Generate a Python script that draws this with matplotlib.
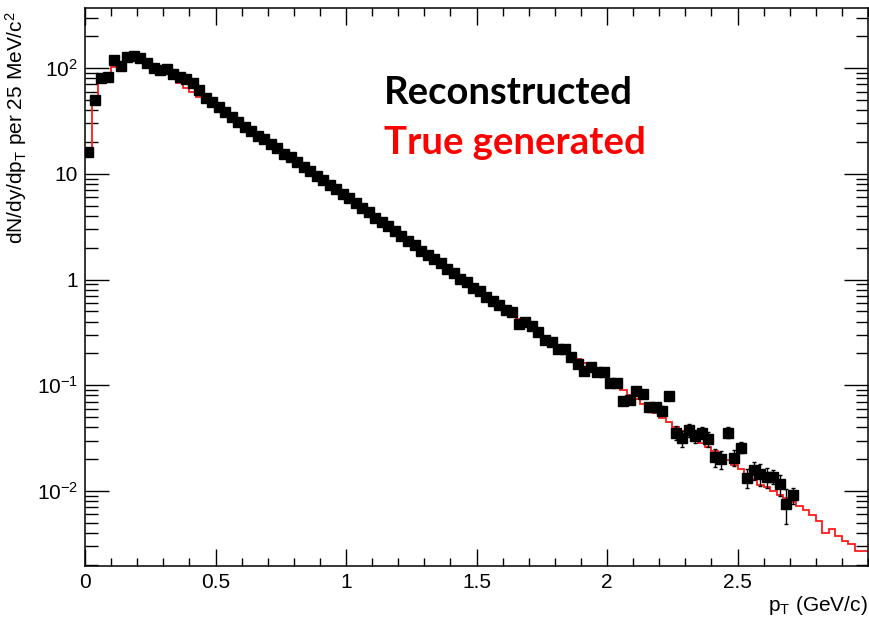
import numpy as np
import matplotlib
matplotlib.use("Agg")
import matplotlib.pyplot as plt
from matplotlib.ticker import FixedLocator, FixedFormatter, LogLocator, MultipleLocator, NullFormatter

plt.rcParams['font.family'] = ['Liberation Sans', 'DejaVu Sans']
plt.rcParams['mathtext.fontset'] = 'custom'
plt.rcParams['mathtext.rm'] = 'Liberation Sans'
plt.rcParams['mathtext.it'] = 'Liberation Sans:italic'
plt.rcParams['mathtext.bf'] = 'Liberation Sans:bold'

# ---- data ----
bin_width = 0.025          # GeV/c (25 MeV/c bins)
n_true_bins = 120

true_generated = [
    15.1, 47.9, 72.4, 79.4, 102.3, 107.2, 114.8, 116.1, 110.9, 104.7,
    97.7, 92.3, 88.1, 79.4, 72.4, 65.3, 59.6, 53.7, 49.0, 44.2,
    40.3, 36.3, 33.1, 29.9, 27.2, 24.5, 22.4, 20.2, 18.2, 16.6,
    15.0, 13.6, 12.3, 11.2, 10.1, 9.12, 8.32, 7.50, 6.84, 6.17,
    5.62, 5.07, 4.57, 4.12, 3.72, 3.35, 3.05, 2.75, 2.48, 2.24,
    2.02, 1.82, 1.64, 1.50, 1.35, 1.22, 1.10, 1.00, 0.902, 0.822,
    0.741, 0.676, 0.617, 0.556, 0.507, 0.462, 0.422, 0.380, 0.347, 0.316,
    0.285, 0.260, 0.237, 0.216, 0.195, 0.178, 0.162, 0.146, 0.133, 0.122,
    0.110, 0.100, 0.0902, 0.0813, 0.0733, 0.0661, 0.0596, 0.0543, 0.0490, 0.0447,
    0.0403, 0.0367, 0.0339, 0.0309, 0.0285, 0.0263, 0.0237, 0.0216, 0.0195, 0.0176,
    0.0160, 0.0141, 0.0129, 0.0115, 0.0108, 0.0100, 0.00923, 0.00861, 0.00794, 0.00724,
    0.00661, 0.00589, 0.00525, 0.00398, 0.00437, 0.00372, 0.00339, 0.00316, 0.00269, 0.00269,
]

reconstructed = [
    16.1, 49.9, 80.4, 82.0, 118, 105, 127, 131, 124, 112,
    100, 96, 98, 88, 83, 79, 72, 62, 52, 48,
    43, 38.6, 34.6, 31.0, 27.7, 25.6, 23.0, 21.3, 19.0, 17.6,
    15.4, 14.3, 13.0, 11.6, 10.7, 9.5, 8.8, 7.8, 7.2, 6.4,
    5.9, 5.3, 4.75, 4.35, 3.85, 3.5, 3.2, 2.85, 2.6, 2.3,
    2.12, 1.88, 1.72, 1.55, 1.42, 1.26, 1.16, 1.02, 0.95, 0.84,
    0.78, 0.69, 0.63, 0.58, 0.52, 0.49, 0.38, 0.40, 0.36, 0.32,
    0.27, 0.255, 0.22, 0.22, 0.184, 0.158, 0.137, 0.148, 0.132, 0.132,
    0.104, 0.106, 0.0713, 0.0724, 0.089, 0.082, 0.0617, 0.0617, 0.0575, 0.0794,
    0.0357, 0.0316, 0.038, 0.0331, 0.0357, 0.0309, 0.0209, 0.020, 0.0357, 0.0207,
    0.0257, 0.0134, 0.0158, 0.0145, 0.0136, 0.0136, 0.0116, 0.0076, 0.0091,
]

reconstructed_rel_err = [
    0.05, 0.03, 0.025, 0.025, 0.02, 0.02, 0.02, 0.02, 0.02, 0.02,
    0.02, 0.02, 0.02, 0.02, 0.02, 0.02, 0.02, 0.02, 0.02, 0.02,
    0.02, 0.02, 0.02, 0.02, 0.02, 0.02, 0.02, 0.02, 0.02, 0.02,
    0.025, 0.025, 0.025, 0.025, 0.025, 0.025, 0.025, 0.025, 0.025, 0.025,
    0.03, 0.03, 0.03, 0.03, 0.03, 0.03, 0.03, 0.03, 0.03, 0.03,
    0.035, 0.035, 0.035, 0.035, 0.035, 0.035, 0.035, 0.035, 0.035, 0.035,
    0.04, 0.04, 0.04, 0.04, 0.04, 0.04, 0.045, 0.045, 0.045, 0.045,
    0.05, 0.05, 0.05, 0.05, 0.06, 0.06, 0.06, 0.06, 0.06, 0.06,
    0.07, 0.07, 0.09, 0.09, 0.08, 0.08, 0.10, 0.10, 0.10, 0.09,
    0.15, 0.17, 0.14, 0.15, 0.14, 0.16, 0.20, 0.20, 0.12, 0.17,
    0.12, 0.20, 0.19, 0.24, 0.22, 0.15, 0.23, 0.36, 0.18,
]

x_tick_values = [0, 0.5, 1, 1.5, 2, 2.5]
x_tick_labels = ["0", "0.5", "1", "1.5", "2", "2.5"]
y_tick_values = [0.01, 0.1, 1, 10, 100]
y_tick_labels = [r"$10^{-2}$", r"$10^{-1}$", "1", "10", r"$10^{2}$"]

# ---- figure ----
W, H = 870, 618
fig = plt.figure(figsize=(W / 100, H / 100), dpi=100)
ax = fig.add_axes([85 / W, 1 - 566 / H, (868 - 85) / W, (566 - 8) / H])

edges = np.arange(n_true_bins + 1) * bin_width
ax.stairs(true_generated, edges, baseline=None, color='#ff1a1a', lw=1.3, zorder=2)

n_reco = len(reconstructed)
centers = edges[:n_reco] + bin_width / 2
reco = np.array(reconstructed)
yerr = reco * np.array(reconstructed_rel_err)
ax.errorbar(centers, reco, yerr=yerr, fmt='s', color='black', ms=6.8,
            mec='black', mfc='black', elinewidth=1.0, capsize=1.6, capthick=1.0,
            zorder=3)

ax.set_yscale('log')
ax.set_xlim(0, 3.0)
ax.set_ylim(0.00195, 370)

ax.xaxis.set_major_locator(FixedLocator(x_tick_values))
ax.xaxis.set_major_formatter(FixedFormatter(x_tick_labels))
ax.xaxis.set_minor_locator(MultipleLocator(0.1))
ax.yaxis.set_major_locator(FixedLocator(y_tick_values))
ax.yaxis.set_major_formatter(FixedFormatter(y_tick_labels))
ax.yaxis.set_minor_locator(LogLocator(base=10, subs=np.arange(2, 10)))
ax.yaxis.set_minor_formatter(NullFormatter())

ax.tick_params(which='both', direction='in', top=True, right=True, width=1.0,
               labelsize=15, colors='black')
ax.tick_params(axis='x', which='major', length=12, pad=5)
ax.tick_params(axis='x', which='minor', length=5.5)
ax.tick_params(axis='y', which='major', length=17, pad=5)
ax.tick_params(axis='y', which='minor', length=9)
for sp in ax.spines.values():
    sp.set_linewidth(1.1)

ax.set_ylabel(r"dN/dy/dp$_{\mathrm{T}}$ per 25 MeV/c$^{2}$", fontsize=15, loc='top')
ax.yaxis.set_label_coords(-0.072, 0.995)
ax.set_xlabel(r"p$_{\mathrm{T}}$ (GeV/c)", fontsize=15, loc='right')
ax.xaxis.set_label_coords(1.0, -0.05)

fig.text(384 / W, 1 - 93 / H, "Reconstructed", fontsize=27.5, fontweight='bold',
         family=['Lato', 'DejaVu Sans'], color='black', ha='left', va='center')
fig.text(384 / W, 1 - 143 / H, "True generated", fontsize=27.5, fontweight='bold',
         family=['Lato', 'DejaVu Sans'], color='#ff0000', ha='left', va='center')

fig.savefig("out.png", dpi=100)
